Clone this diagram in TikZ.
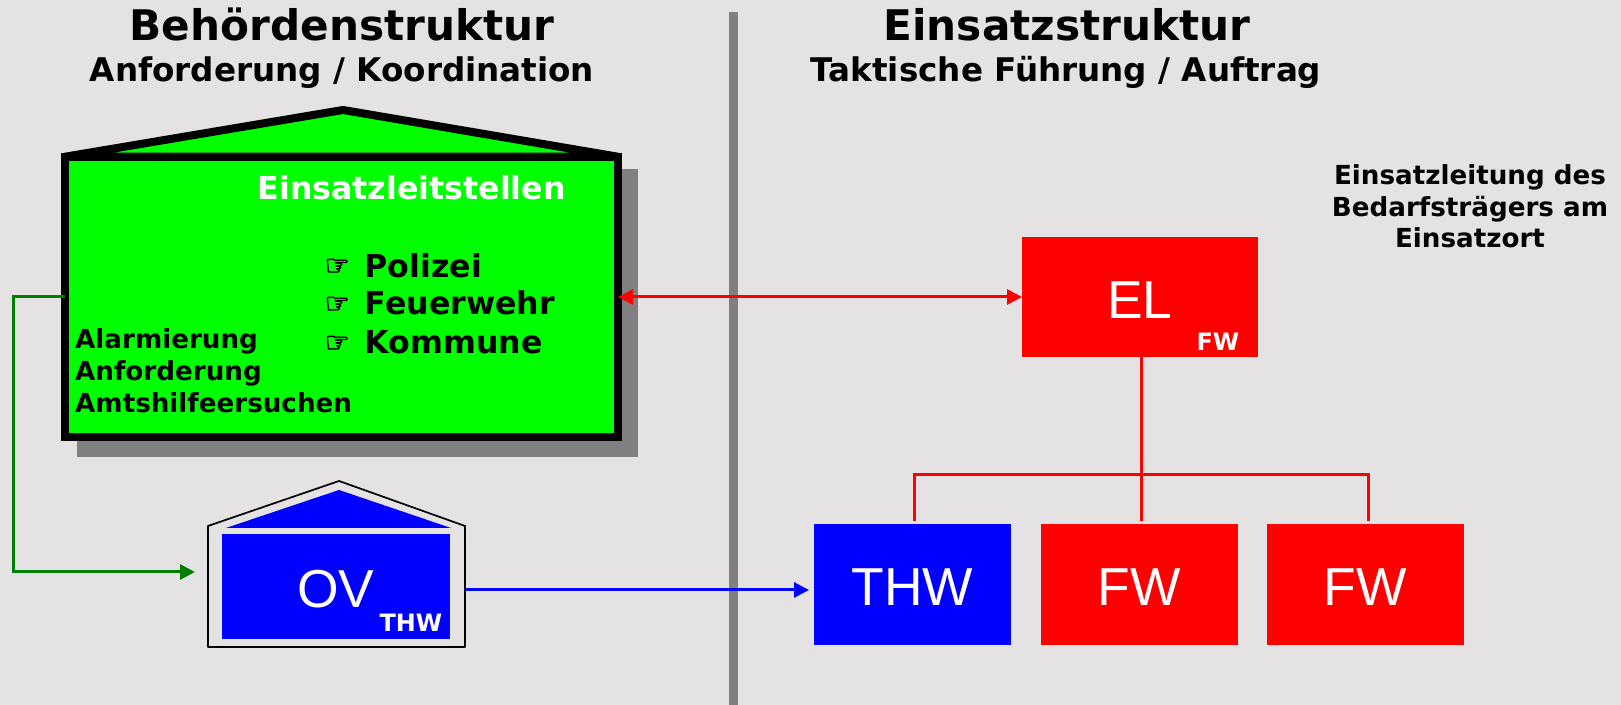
\documentclass[tikz,border=0pt]{standalone}
\usepackage{fontspec}
\setmainfont{DejaVu Sans}
\newfontfamily\arialfont{Liberation Sans}
\newfontfamily\handfont[FakeBold=3]{DejaVu Sans}
\usetikzlibrary{arrows.meta}
\definecolor{hintergrund}{HTML}{E4E2E3}
\definecolor{schatten}{HTML}{808080}
\definecolor{gruenlinie}{HTML}{008000}
\tikzset{
  kasten/.style={inner sep=0, outer sep=0, minimum width=1.97cm, minimum height=1.21cm, text=white, text height=0.43cm, font=\arialfont\fontsize{15.2}{18}\selectfont},
  titel/.style={anchor=base, inner sep=0, font=\bfseries\fontsize{12}{14}\selectfont},
  untertitel/.style={anchor=base, inner sep=0, font=\bfseries\fontsize{9.27}{12}\selectfont},
  liste/.style={anchor=base west, inner sep=0, font=\bfseries\fontsize{9}{11}\selectfont},
  hand/.style={anchor=base west, inner sep=0, font=\handfont\fontsize{8}{10}\selectfont},
  klein/.style={anchor=base west, inner sep=0, font=\bfseries\fontsize{7.45}{9}\selectfont},
  hinweis/.style={anchor=base, inner sep=0, font=\bfseries\fontsize{7.45}{9}\selectfont},
  kuerzel/.style={anchor=base east, inner sep=0, text=white, font=\bfseries\fontsize{6.8}{8}\selectfont},
  pfeil/.style={line width=0.3mm, -{Triangle[length=1.5mm, width=1.5mm]}},
}
\begin{document}
\begin{tikzpicture}
\fill[hintergrund] (0,0) rectangle (16.21,7.05);
\fill[schatten] (7.29,0) rectangle (7.38,6.93);

% Titel
\node[titel] (behoerde) at (3.42,6.64) {Behördenstruktur};
\node[untertitel] (anforderung) at (3.42,6.23) {Anforderung / Koordination};
\node[titel] (einsatz) at (10.67,6.64) {Einsatzstruktur};
\node[untertitel] (taktik) at (10.66,6.23) {Taktische Führung / Auftrag};

% Einsatzleitstellen
\fill[schatten] (0.77,2.48) rectangle (6.38,5.36);
\node[draw=black, fill=green, line width=0.8mm, outer sep=0, minimum width=5.53cm, minimum height=2.805cm] (els) at (3.415,4.08) {};
\draw[fill=green, line width=0.8mm, line join=round] (els.north west)--(3.43,5.95)--(els.north east)--cycle;
\node[liste, text=white] (leitstellen) at (2.57,5.05) {Einsatzleitstellen};
\node[hand] (hand1) at (3.24,4.30) {\char"261E};
\node[hand] (hand2) at (3.24,3.92) {\char"261E};
\node[hand] (hand3) at (3.24,3.53) {\char"261E};
\node[liste] (polizei) at (3.64,4.27) {Polizei};
\node[liste] (feuerwehr) at (3.64,3.90) {Feuerwehr};
\node[liste] (kommune) at (3.64,3.51) {Kommune};
\node[klein] (alarm) at (0.745,3.56) {Alarmierung};
\node[klein] (anf) at (0.745,3.24) {Anforderung};
\node[klein] (amtshilfe) at (0.745,2.92) {Amtshilfeersuchen};

% Ortsverband
\node[outer sep=0, minimum width=2.57cm, minimum height=1.21cm] (ovhaus) at (3.365,1.185) {};
\draw[line width=0.17mm, line join=round] (ovhaus.south west)--(ovhaus.north west)--(3.39,2.24)--(ovhaus.north east)--(ovhaus.south east)--cycle;
\fill[blue] (2.26,1.77)--(3.39,2.15)--(4.51,1.77)--cycle;
\node[kasten, fill=blue, minimum width=2.28cm, minimum height=1.05cm] (ov) at (3.36,1.185) {OV};
\node[kuerzel] (ovthw) at (4.43,0.73) {THW};

% Einsatzkraefte
\node[kasten, fill=red, minimum width=2.36cm, minimum height=1.2cm] (el) at (11.40,4.08) {EL};
\node[kuerzel] (elfw) at (12.40,3.54) {FW};
\node[kasten, fill=blue] (thw) at (9.125,1.205) {THW};
\node[kasten, fill=red] (fw1) at (11.395,1.205) {FW};
\node[kasten, fill=red] (fw2) at (13.655,1.205) {FW};

\node[hinweis] (text1) at (14.70,5.20) {Einsatzleitung des};
\node[hinweis] (text2) at (14.70,4.88) {Bedarfsträgers am};
\node[hinweis] (text3) at (14.70,4.57) {Einsatzort};

% Verbindungen
\coordinate (knick) at (0.13,1.33);
\coordinate (gruenende) at (1.95,1.33);
\coordinate (blauende) at (8.09,1.15);
\coordinate (sammel) at (11.41,2.30);
\draw[pfeil, gruenlinie] (els.west) -| (knick)--(gruenende);
\draw[pfeil, blue] (blauende -| ovhaus.east)--(blauende);
\draw[pfeil, red, {Triangle[length=1.5mm, width=1.5mm]}-{Triangle[length=1.5mm, width=1.5mm]}] (els.east)--(el.west);
\draw[red, line width=0.3mm] (el.south -| sammel)--(sammel);
\draw[red, line width=0.3mm, shorten >=0.03cm] (sammel)--(sammel |- fw1.north);
\draw[red, line width=0.3mm, shorten >=0.03cm] (sammel) -| ([xshift=0.015cm]thw.north);
\draw[red, line width=0.3mm, shorten >=0.03cm] (sammel) -| ([xshift=0.025cm]fw2.north);
\end{tikzpicture}
\end{document}
